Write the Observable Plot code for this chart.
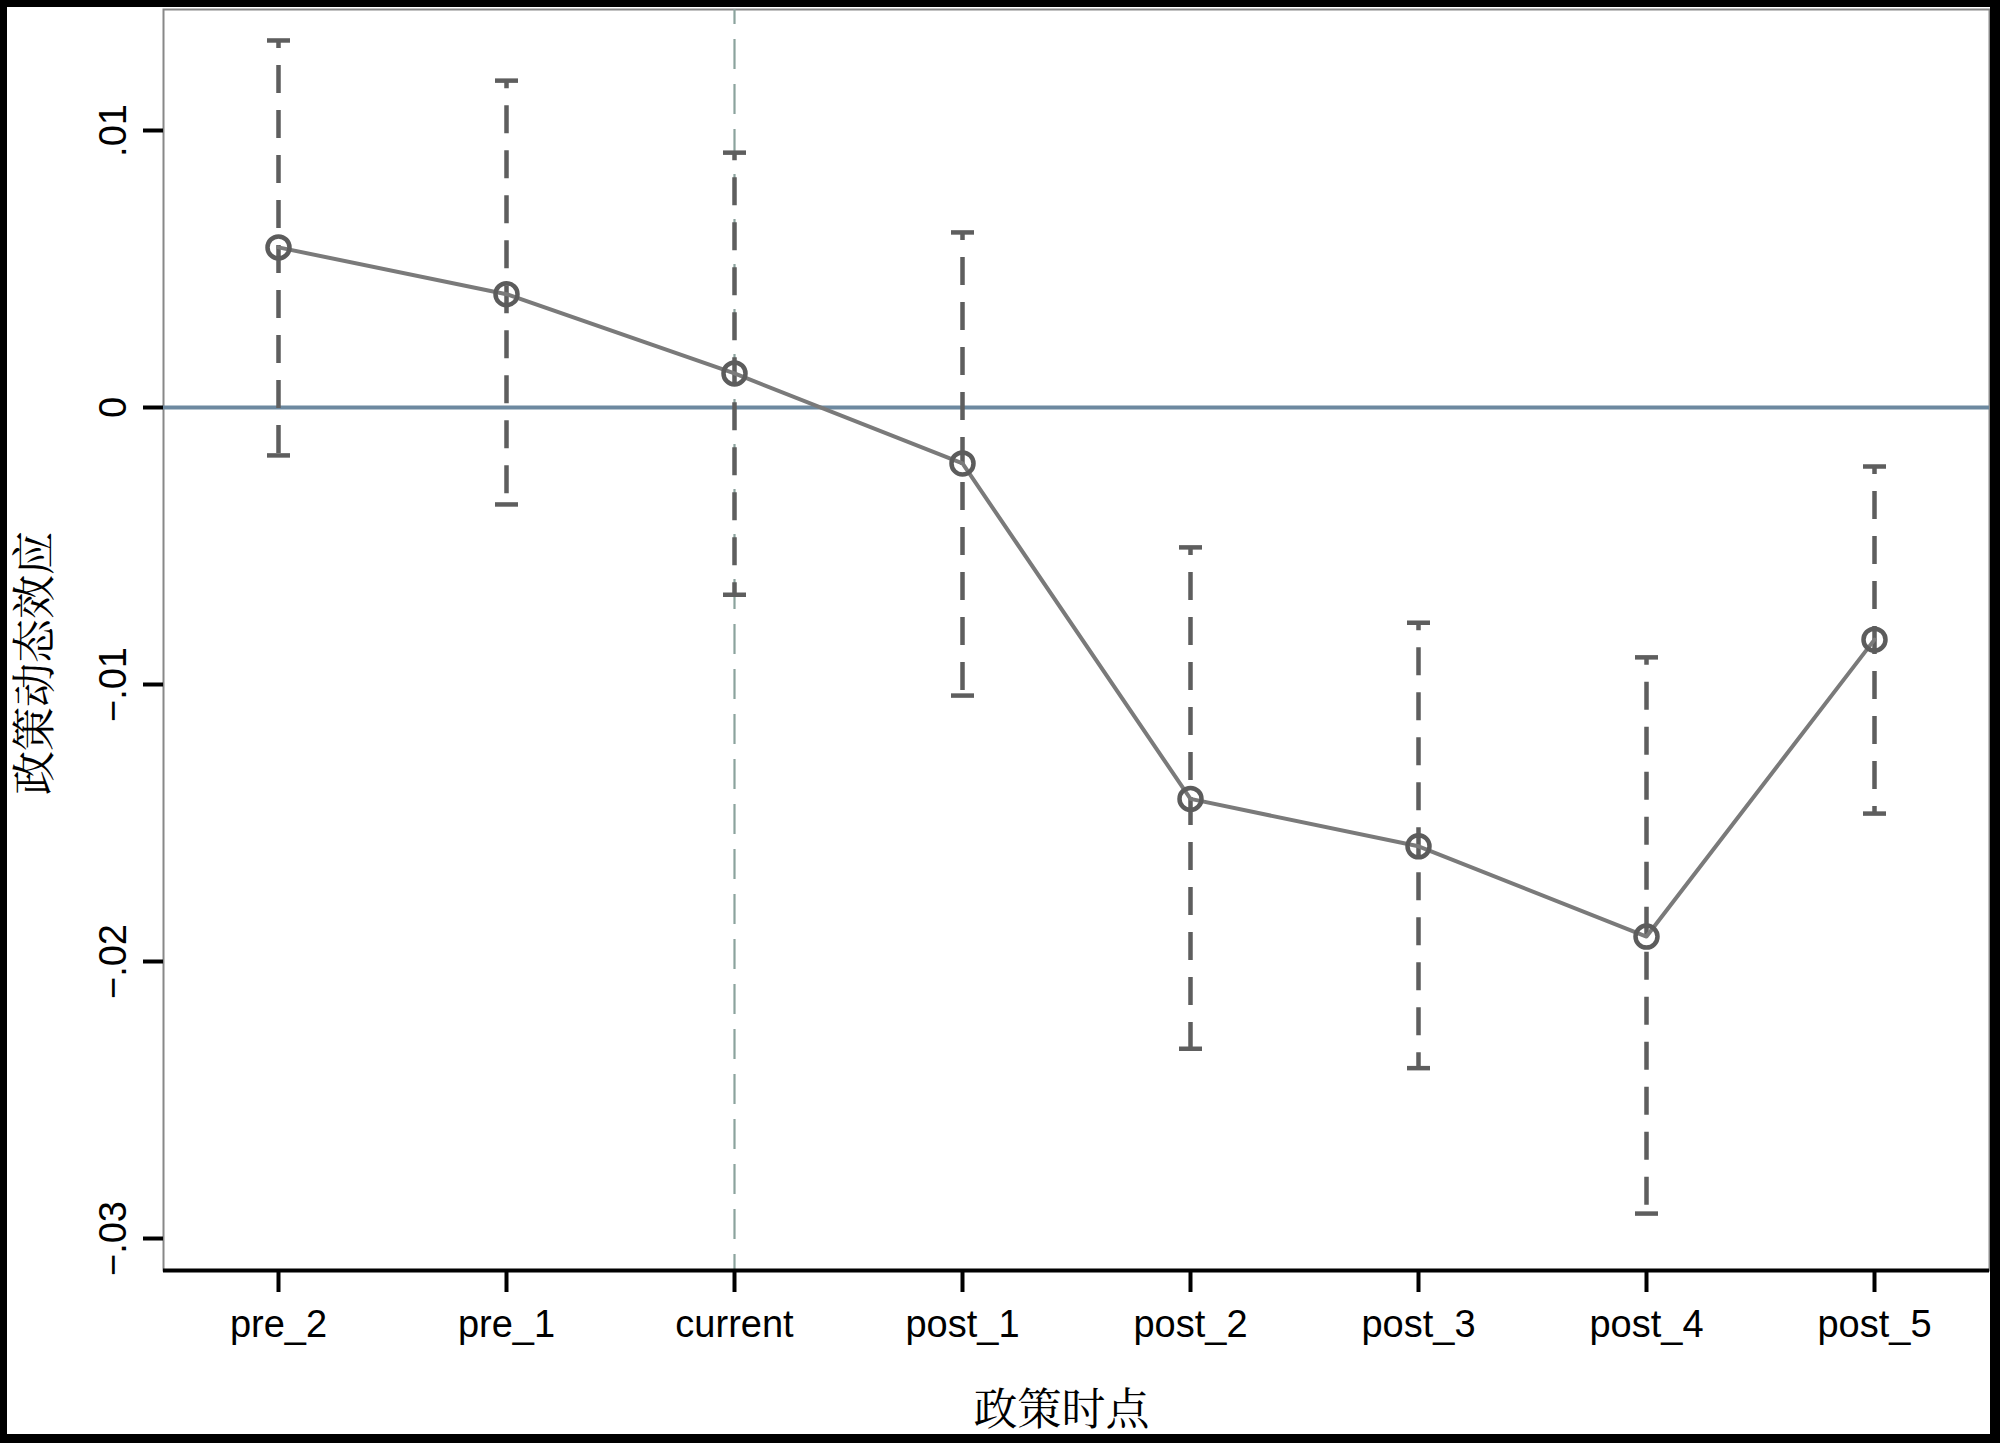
<!DOCTYPE html>
<html>
<head>
<meta charset="utf-8">
<script src="https://cdn.jsdelivr.net/npm/d3@7"></script>
<script src="https://cdn.jsdelivr.net/npm/@observablehq/plot@0.6"></script>
<style>
  html, body { margin: 0; padding: 0; background: #fff; }
  #wrap { position: relative; width: 2000px; height: 1443px; overflow: hidden; background: #fff; }
  #wrap svg { position: absolute; left: 0; top: 0; }
  #border { position: absolute; left: 0; top: 0; width: 2000px; height: 1443px; box-sizing: border-box;
            border-style: solid; border-color: #000; border-width: 7px 10px 9px 7px; pointer-events: none; }
</style>
</head>
<body>
<div id="wrap"><div id="border"></div></div>
<script>
const periods = ["pre_2", "pre_1", "current", "post_1", "post_2", "post_3", "post_4", "post_5"];
const coef    = [0.00578, 0.00409, 0.00123, -0.00202, -0.01413, -0.01584, -0.0191, -0.00838];
const ciLow   = [-0.00173, -0.0035, -0.00676, -0.0104, -0.02315, -0.02385, -0.0291, -0.01466];
const ciHigh  = [0.01325, 0.0118, 0.0092, 0.00632, -0.00505, -0.00777, -0.00902, -0.00213];
const yTicks  = [-0.03, -0.02, -0.01, 0, 0.01];
const xTitle  = "政策时点";
const yTitle  = "政策动态效应";
const eventPeriod = "current";

const data = periods.map((t, i) => ({t, b: coef[i], lo: ciLow[i], hi: ciHigh[i]}));
const yMin = -0.031155, yMax = 0.014368;
const fmt = d => d === 0 ? "0" : d3.format(".2f")(d).replace("0.", ".");
const capSymbol = {
  draw(ctx, size) {
    const w = Math.sqrt(size / Math.PI);
    ctx.moveTo(-w, 0); ctx.lineTo(w, 0);
  }
};
const cjk = "'Noto Serif CJK SC', 'Noto Sans CJK SC', serif";

const chart = Plot.plot({
  width: 2000, height: 1443,
  marginLeft: 163, marginRight: 11, marginTop: 9, marginBottom: 173,
  style: {fontFamily: "'Liberation Sans', Arial, sans-serif", fontSize: "38px", color: "#000", background: "transparent"},
  x: {type: "point", domain: periods, padding: 0.5},
  y: {domain: [yMin, yMax]},
  marks: [
    Plot.frame({stroke: "#888", strokeWidth: 2}),
    Plot.ruleY([0], {stroke: "#6d89a0", strokeWidth: 4}),
    Plot.ruleX([eventPeriod], {stroke: "#8ba39d", strokeWidth: 2.2, strokeDasharray: "30,15", strokeDashoffset: 15}),
    Plot.ruleX(data, {x: "t", y1: "hi", y2: "lo", stroke: "#5e5e5e", strokeWidth: 4.5, strokeDasharray: "28,17", strokeDashoffset: 20}),
    Plot.dot(data, {x: "t", y: "hi", symbol: capSymbol, r: 11.5, stroke: "#5e5e5e", strokeWidth: 4.5, fill: "none"}),
    Plot.dot(data, {x: "t", y: "lo", symbol: capSymbol, r: 11.5, stroke: "#5e5e5e", strokeWidth: 4.5, fill: "none"}),
    Plot.line(data, {x: "t", y: "b", stroke: "#7a7a7a", strokeWidth: 4}),
    Plot.dot(data, {x: "t", y: "b", r: 11, stroke: "#5c5c5c", strokeWidth: 4.5, fill: "none"}),
    Plot.axisY({ticks: yTicks, tickFormat: fmt, tickSize: 20, tickPadding: 18, tickRotate: -90, strokeWidth: 4, line: true, label: null, fontSize: 38}),
    Plot.axisX({tickSize: 22, tickPadding: 18, strokeWidth: 4, line: true, label: null, fontSize: 38}),
    Plot.ruleY([yMin], {stroke: "#000", strokeWidth: 4}),
    Plot.text([xTitle], {frameAnchor: "bottom", text: d => d, dx: -15, dy: 140, fontSize: 44, fontFamily: cjk, lineAnchor: "middle", fill: "#000"}),
    Plot.text([yTitle], {frameAnchor: "left", text: d => d, rotate: -90, dx: -128, dy: 23, fontSize: 44, fontFamily: cjk, lineAnchor: "middle", textAnchor: "middle", fill: "#000"})
  ]
});
document.getElementById("wrap").insertBefore(chart, document.getElementById("border"));
</script>
</body>
</html>
